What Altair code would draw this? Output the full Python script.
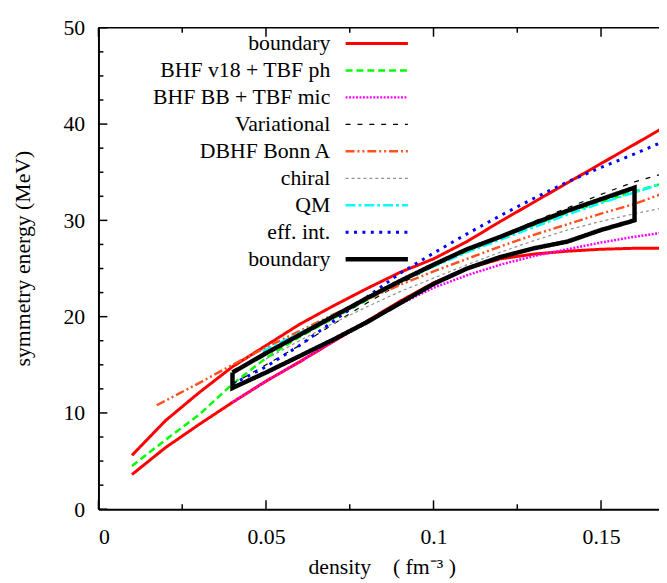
import altair as alt
import pandas as pd

# ---------------- data ----------------
x_full = [0.01, 0.02, 0.03, 0.04, 0.05, 0.06, 0.07, 0.08, 0.09, 0.10,
          0.11, 0.12, 0.13, 0.14, 0.15, 0.16, 0.17]
red_upper = [5.6, 9.2, 12.1, 14.8, 17.0, 19.2, 21.1, 22.9, 24.6, 26.0,
             27.8, 29.9, 31.9, 33.9, 35.9, 37.9, 39.9]
red_lower = [3.6, 6.4, 8.8, 11.1, 13.3, 15.3, 17.4, 19.5, 21.6, 23.5,
             25.0, 26.0, 26.5, 26.8, 27.0, 27.1, 27.1]
bhf_v18 = [4.5, 7.2, 9.8, 13.0, 15.7, 17.9, 19.8, 21.7, 23.6, 25.3,
           26.8, 28.2, 29.5, 30.8, 31.9, 33.0, 34.0]

x_from04 = [0.04, 0.05, 0.06, 0.07, 0.08, 0.09, 0.10, 0.11, 0.12, 0.13,
            0.14, 0.15, 0.16, 0.17]
bhf_bb = [11.1, 13.3, 15.3, 17.4, 19.4, 21.3, 23.0, 24.3, 25.4, 26.3,
          27.0, 27.7, 28.3, 28.8]
variational = [13.0, 15.0, 17.0, 19.2, 21.4, 23.4, 25.2, 26.9, 28.4, 29.9,
               31.3, 32.7, 34.0, 35.0]
eff_int = [13.0, 14.8, 17.0, 19.5, 22.0, 24.5, 26.6, 28.6, 30.5, 32.3,
           34.0, 35.5, 36.9, 38.4]

x_from05 = [0.05, 0.06, 0.07, 0.08, 0.09, 0.10, 0.11, 0.12, 0.13, 0.14,
            0.15, 0.16, 0.17]
chiral = [15.6, 17.5, 19.3, 21.0, 22.6, 24.0, 25.4, 26.7, 27.9, 29.0,
          29.9, 30.7, 31.4]

x_qm = [0.049, 0.06, 0.07, 0.08, 0.09, 0.10, 0.11, 0.12, 0.13, 0.14,
        0.15, 0.16, 0.17]
qm = [16.4, 18.3, 20.1, 21.9, 23.6, 25.2, 26.7, 28.0, 29.3, 30.6,
      31.8, 32.9, 34.0]

x_dbhf = [0.0174, 0.03, 0.04, 0.05, 0.06, 0.07, 0.08, 0.09, 0.10, 0.11,
          0.12, 0.13, 0.14, 0.15, 0.16, 0.17]
dbhf = [10.8, 13.1, 15.0, 16.8, 18.5, 20.2, 21.8, 23.3, 24.7, 26.0,
        27.3, 28.5, 29.6, 30.7, 31.7, 33.0]

x_box = [0.04, 0.05, 0.06, 0.07, 0.08, 0.09, 0.10, 0.11, 0.12, 0.13,
         0.14, 0.15, 0.16]
box_upper = [14.2, 16.2, 18.1, 20.0, 21.9, 23.7, 25.4, 27.0, 28.3, 29.7,
             31.0, 32.2, 33.4]
box_lower = [12.6, 14.2, 15.9, 17.6, 19.4, 21.4, 23.4, 25.0, 26.2, 27.1,
             27.8, 29.0, 30.0]

series_keys = ["boundary_red", "BHF v18 + TBF ph", "BHF BB + TBF mic",
               "Variational", "DBHF Bonn A", "chiral", "QM", "eff. int.",
               "boundary_black"]
series_colors = ["#ff0000", "#00ff00", "#ff00ff", "#000000", "#ff5020",
                 "#909090", "#00ffff", "#0000ff", "#000000"]
series_dashes = [[1, 0], [7, 4], [2, 1.5], [5, 7], [9, 3, 2, 3, 2, 3],
                 [3, 3], [10, 3, 3, 3], [3, 5.5], [1, 0]]
series_widths = [3, 2.5, 2.5, 1.2, 2.5, 1.2, 2.5, 3, 4.5]

x_title = "density\u00a0\u00a0\u00a0\u00a0(\u00a0fm\u207b\u00b3\u00a0)"
y_title = "symmetry energy (MeV)"

x_minor_vals = [0.025, 0.075, 0.125]
x_major_vals = [0, 0.05, 0.1, 0.15]
y_minor_vals = [2.5, 5, 7.5, 12.5, 15, 17.5, 22.5, 25, 27.5, 32.5, 35, 37.5,
                42.5, 45, 47.5]
y_major_vals = [0, 10, 20, 30, 40, 50]

# ---------------- chart geometry ----------------
W, H = 567, 487
X_MAX, Y_MAX = 0.1673, 50
FONT = "Liberation Serif"

# ---------------- long-form table ----------------
rows = []
width_of = dict(zip(series_keys, series_widths))


def add(key, part, xs, ys):
    for i, (xv, yv) in enumerate(zip(xs, ys)):
        rows.append({"density": xv, "energy": yv, "series": key,
                     "part": part, "order": i, "width": width_of[key]})


add("boundary_red", "upper", x_full, red_upper)
add("boundary_red", "lower", x_full, red_lower)
add("BHF v18 + TBF ph", "a", x_full, bhf_v18)
add("BHF BB + TBF mic", "a", x_from04, bhf_bb)
add("Variational", "a", x_from04, variational)
add("DBHF Bonn A", "a", x_dbhf, dbhf)
add("chiral", "a", x_from05, chiral)
add("QM", "a", x_qm, qm)
add("eff. int.", "a", x_from04, eff_int)
# closed boundary polygon: upper edge, then lower edge back, then close
box_x = x_box + x_box[::-1] + [x_box[0]]
box_y = box_upper + box_lower[::-1] + [box_upper[0]]
add("boundary_black", "box", box_x, box_y)

df = pd.DataFrame(rows)

# inward (gnuplot-style) ticks and the top frame line, as segments in data units
px_x = X_MAX / W   # one pixel in density units
px_y = Y_MAX / H   # one pixel in energy units
seg = []
for vals, n in ((x_minor_vals, 5), (x_major_vals, 9)):
    for v in vals:
        seg.append({"density": v, "density2": v, "energy": 0, "energy2": n * px_y})
        seg.append({"density": v, "density2": v, "energy": Y_MAX, "energy2": Y_MAX - n * px_y})
for vals, n in ((y_minor_vals, 5), (y_major_vals, 9)):
    for v in vals:
        seg.append({"density": 0, "density2": n * px_x, "energy": v, "energy2": v})
seg.append({"density": 0, "density2": X_MAX, "energy": Y_MAX, "energy2": Y_MAX})
seg_df = pd.DataFrame(seg)

xscale = alt.Scale(domain=[0, X_MAX], nice=False)
yscale = alt.Scale(domain=[0, Y_MAX], nice=False)

label_expr = ("datum.label == 'boundary_red' || datum.label == 'boundary_black' ? 'boundary' : "
              "datum.label == 'chiral' ? 'chiral\u00a0' : datum.label == 'QM' ? 'QM\u00a0' : datum.label")
width_expr = ("datum.value == 'boundary_black' ? 4.5 : datum.value == 'boundary_red' ? 3 : "
              "datum.value == 'Variational' || datum.value == 'chiral' ? 1.2 : "
              "datum.value == 'eff. int.' ? 3 : 2.5")

legend = alt.Legend(
    title=None, orient="none", legendX=270.5, legendY=4.8, direction="vertical",
    symbolType="M-3,0H3", symbolSize=441, labelAlign="right",
    labelOffset=alt.ExprRef(expr="-58"), labelFont=FONT, labelFontSize=22,
    labelColor="black", rowPadding=5.3, padding=0, labelExpr=label_expr,
    labelLimit=400, symbolStrokeWidth=alt.ExprRef(expr=width_expr),
)

x_main_axis = alt.Axis(
    orient="bottom", values=x_major_vals, format="~g", ticks=False, tickSize=0,
    grid=False, domainColor="black", domainWidth=2, labelFont=FONT, labelFontSize=22,
    labelColor="black", labelBaseline="alphabetic", labelPadding=35, title=x_title,
    titleFont=FONT, titleFontSize=22, titleFontWeight="normal", titleColor="black",
    titleBaseline="alphabetic", titleY=65, titleX=W / 2 + 3,
)
y_main_axis = alt.Axis(
    orient="left", values=y_major_vals, format="d", ticks=False, tickSize=0,
    grid=False, domainColor="black", domainWidth=2, labelFont=FONT, labelFontSize=22,
    labelColor="black", labelPadding=14, labelBaseline="middle", title=y_title,
    titleFont=FONT, titleFontSize=22, titleFontWeight="normal", titleColor="black",
    titleBaseline="alphabetic", titleAngle=-90, titleX=-70, titleY=233,
)

frame = alt.Chart(seg_df).mark_rule(color="black", strokeWidth=1.5).encode(
    x=alt.X("density:Q", scale=xscale, axis=x_main_axis),
    x2="density2:Q",
    y=alt.Y("energy:Q", scale=yscale, axis=y_main_axis),
    y2="energy2:Q",
)

lines = alt.Chart(df).mark_line(clip=True, strokeCap="butt", strokeJoin="miter").encode(
    x=alt.X("density:Q", scale=xscale, axis=x_main_axis),
    y=alt.Y("energy:Q", scale=yscale, axis=y_main_axis),
    color=alt.Color("series:N", scale=alt.Scale(domain=series_keys, range=series_colors),
                    legend=legend),
    strokeDash=alt.StrokeDash("series:N",
                              scale=alt.Scale(domain=series_keys, range=series_dashes),
                              legend=legend),
    strokeWidth=alt.StrokeWidth("width:Q", scale=None, legend=None),
    detail="part:N",
    order="order:Q",
)

chart = alt.layer(frame, lines).properties(
    width=W, height=H, autosize="none",
    padding={"left": 91.5, "top": 16.7, "right": 0, "bottom": 71.3},
    background="white",
).configure_view(stroke=None)

chart.save("out.html", embed_options={"renderer": "svg", "actions": False})
